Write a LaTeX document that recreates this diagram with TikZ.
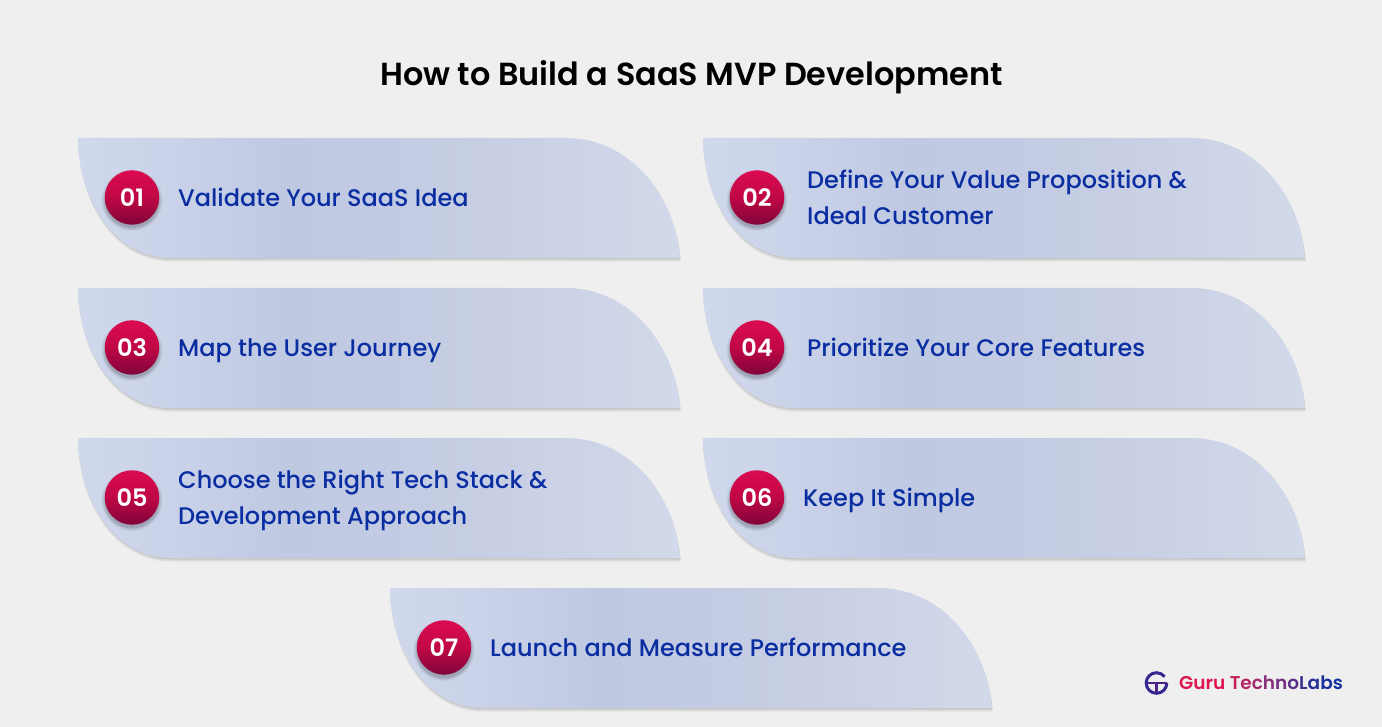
\documentclass[tikz,border=0pt]{standalone}
\usepackage{fontspec}
\setmainfont{Poppins}
\newfontfamily\medfont{Poppins Medium}
\newfontfamily\semifont{Poppins SemiBold}
\usetikzlibrary{calc}
\definecolor{pagebg}{HTML}{EFEFEF}
\definecolor{cardA}{HTML}{D0D8EC}
\definecolor{cardB}{HTML}{BFC9E2}
\definecolor{cardC}{HTML}{C8CFE4}
\definecolor{cardD}{HTML}{D2D9EA}
\definecolor{inkblue}{HTML}{0A2EA2}
\definecolor{badgeA}{HTML}{DC0A52}
\definecolor{badgeB}{HTML}{C00845}
\definecolor{badgeC}{HTML}{80033A}
\pgfdeclarehorizontalshading{cardshade}{100bp}{color(0bp)=(cardA);color(25bp)=(cardA);color(33bp)=(cardA!60!cardB);color(42bp)=(cardB);color(50bp)=(cardB!70!cardC);color(60bp)=(cardC);color(75bp)=(cardD);color(100bp)=(cardD)}
\pgfdeclareverticalshading{badgeshade}{100bp}{color(0bp)=(badgeC);color(25bp)=(badgeC);color(50bp)=(badgeB);color(75bp)=(badgeA);color(100bp)=(badgeA)}
\newcommand{\cardpath}[2]{(#1,#2) .. controls (#1,#2+62) and (#1+37,#2+120) .. (#1+92,#2+120) -- (#1+602,#2+120) .. controls (#1+597,#2+57) and (#1+552,#2) .. (#1+488,#2) -- cycle}
\newcommand{\card}[6]{% x, y, name, number, text x-offset, text
  \foreach \off/\op in {4/0.03,3/0.04,2/0.05,1/0.05}{
    \fill[black,opacity=\op,shift={(0.6,\off)}] \cardpath{#1}{#2};
  }
  \shade[shading=cardshade] \cardpath{#1}{#2};
  \foreach \rad/\op in {30.5/0.04,29.5/0.05,28.5/0.07,27.5/0.08}{
    \fill[black,opacity=\op] (#1+54,#2+62.5) circle[radius=\rad];
  }
  \node[badge] (b#3) at (#1+54,#2+59.5) {};
  \node[badgetext] (n#3) at (#1+54,#2+68.5) {#4};
  \node[cardtext] (t#3) at (#1+#5,#2+61.2) {#6};
}
\tikzset{
  badge/.style={circle,minimum size=54.5pt,inner sep=0pt,shading=badgeshade},
  badgetext/.style={anchor=base,font=\fontsize{24}{26}\selectfont\semifont,text=white,inner sep=0pt},
  cardtext/.style={anchor=west,align=left,inner sep=0pt,text=inkblue,font=\fontsize{24}{36}\selectfont\medfont},
}
\begin{document}
\begin{tikzpicture}[x=1pt,y=-1pt]
\fill[pagebg] (0,0) rectangle (1382,727);
\useasboundingbox (0,0) rectangle (1382,727);
\node[anchor=base,font=\fontsize{31.9}{36}\selectfont\semifont,text=black,inner sep=0pt] (title) at (691.5,85.7) {How to Build a SaaS MVP Development};
\card{78}{138}{1}{01}{100}{\strut Validate Your SaaS Idea}
\card{703}{138}{2}{02}{104}{\strut Define Your Value Proposition \&\\\strut Ideal Customer}
\card{78}{288}{3}{03}{100}{\strut Map the User Journey}
\card{703}{288}{4}{04}{104}{\strut Prioritize Your Core Features}
\card{78}{438}{5}{05}{100}{\strut Choose the Right Tech Stack \&\\\strut Development Approach}
\card{703}{438}{6}{06}{100}{\strut Keep It Simple}
\card{390}{588}{7}{07}{100}{\strut Launch and Measure Performance}
% logo
\draw[line width=3pt,color=inkblue!80!badgeA] (1166.8,683) arc[start angle=0,end angle=322,radius=10.3];
\draw[line width=2.4pt,color=inkblue!70!badgeA] (1146.5,683) -- (1167,683);
\draw[line width=2.4pt,color=inkblue!70!badgeA] (1156.5,683) -- (1156.5,692);
\draw[color=black!7,line width=0.8pt] (1175,672) -- (1175,694);
\node[anchor=west,inner sep=0pt,font=\fontsize{18.5}{22}\selectfont\semifont] (logo) at (1179,683) {%
\textcolor[HTML]{E0144F}{Guru }\textcolor[HTML]{C41E5C}{T}\textcolor[HTML]{B42566}{e}\textcolor[HTML]{A02A6E}{c}\textcolor[HTML]{8A2E78}{h}\textcolor[HTML]{722F80}{n}\textcolor[HTML]{5A3088}{o}\textcolor[HTML]{3F3090}{L}\textcolor[HTML]{2A3098}{a}\textcolor[HTML]{1A309C}{b}\textcolor[HTML]{0F309E}{s}};
\end{tikzpicture}
\end{document}
